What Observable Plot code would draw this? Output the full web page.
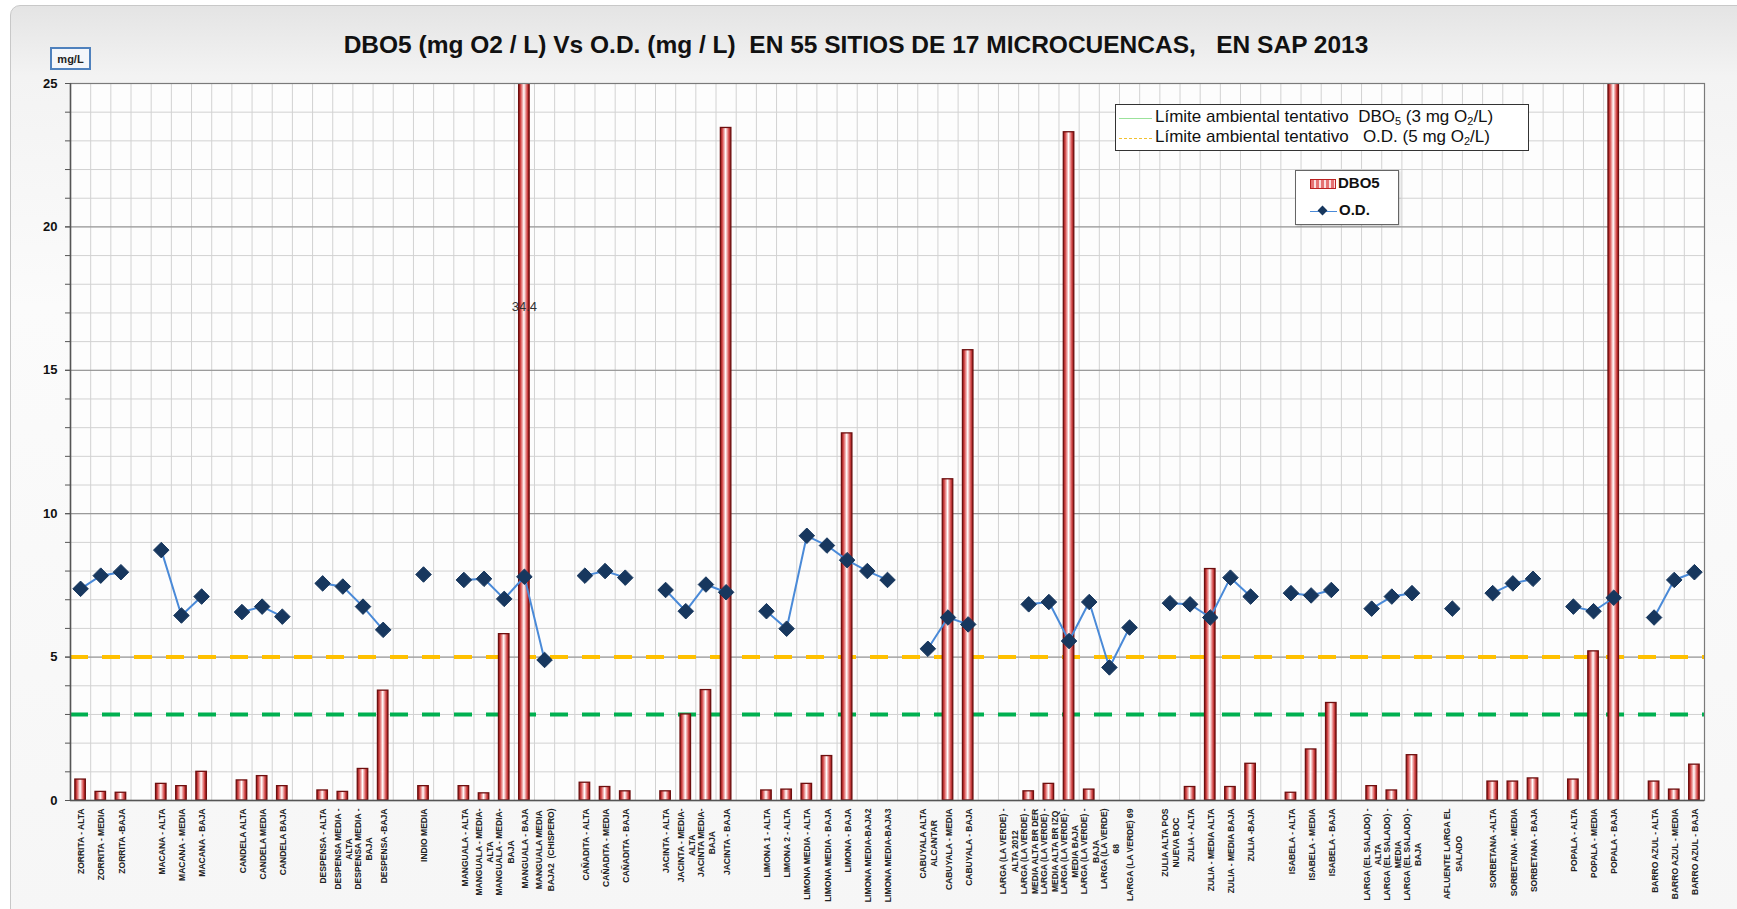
<!DOCTYPE html>
<html>
<head>
<meta charset="utf-8">
<script src="https://cdn.jsdelivr.net/npm/d3@7"></script>
<script src="https://cdn.jsdelivr.net/npm/@observablehq/plot@0.6"></script>
<style>
  html, body { margin: 0; padding: 0; width: 1737px; height: 909px; overflow: hidden; background: #ffffff; font-family: "Liberation Sans", Arial, sans-serif; }
  #wrap { position: relative; width: 1737px; height: 909px; }
  #frame { position: absolute; left: 10px; top: 5px; width: 1760px; height: 940px; border: 1px solid #c8c8c8; border-radius: 10px;
           background: linear-gradient(#e4e4e4 0px, #f3f3f3 70px, #fbfbfb 300px, #f6f6f6 909px); }
  #title { position: absolute; left: 0; width: 1712px; top: 31px; text-align: center; font-weight: bold; font-size: 24.5px; white-space: pre; color: #111; }
  #unit { position: absolute; left: 50px; top: 47px; width: 41px; height: 23px; border: 2px solid #4f81bd; background: #f4f6fa;
          font-size: 11px; font-weight: bold; line-height: 20px; text-align: center; color: #222; box-sizing: border-box; }
  #chart { position: absolute; left: 0; top: 0; }
  #leg1 { position: absolute; left: 1115px; top: 104px; width: 414px; height: 47px; border: 1.5px solid #333; background: #fff; box-sizing: border-box; font-size: 17px; color: #111; }
  #leg1 .row { position: absolute; left: 0; height: 20px; line-height: 20px; white-space: pre; }
  #leg1 .sw { position: absolute; left: 3px; width: 33px; top: 11px; }
  #leg1 .tx { position: absolute; left: 39px; top: 0; }
  #leg2 { position: absolute; left: 1295px; top: 170px; width: 104px; height: 55px; border: 1px solid #666; background: #fff; box-sizing: border-box; font-size: 15px; font-weight: bold; color: #111; box-shadow: 1px 1px 2px rgba(0,0,0,0.2); }
  sub { font-size: 11px; vertical-align: -3px; line-height: 0; }
</style>
</head>
<body>
<div id="wrap">
  <div id="frame"></div>
  <div id="title">DBO5 (mg O2 / L) Vs O.D. (mg / L)  EN 55 SITIOS DE 17 MICROCUENCAS,   EN SAP 2013</div>
  <div id="unit">mg/L</div>
  <div id="chart"></div>
  <div id="leg1">
    <div class="row" style="top:2px; width:100%;"><div class="sw" style="border-top:1px solid #9be29b;"></div><div class="tx">Límite ambiental tentativo  DBO<sub>5</sub> (3 mg O<sub>2</sub>/L)</div></div>
    <div class="row" style="top:22px; width:100%;"><div class="sw" style="border-top:1px dashed #f0c030;"></div><div class="tx">Límite ambiental tentativo   O.D. (5 mg O<sub>2</sub>/L)</div></div>
  </div>
  <div id="leg2">
    <div style="position:absolute; left:14px; top:8px; width:26px; height:10px; border:1.5px solid #b22; background: repeating-linear-gradient(90deg,#e57373 0 3px,#fbe0e0 3px 5px); box-sizing:border-box;"></div>
    <div style="position:absolute; left:42px; top:3px;">DBO5</div>
    <div style="position:absolute; left:14px; top:40px; width:27px; border-top:1.5px solid #4a8ad8;"></div>
    <div style="position:absolute; left:23px; top:36px; width:7px; height:7px; background:#17375e; transform: rotate(45deg);"></div>
    <div style="position:absolute; left:43px; top:30px;">O.D.</div>
  </div>
</div>
<script>
// ---------------- data ----------------
const categories = [
  "ZORRITA - ALTA", "ZORRITA - MEDIA", "ZORRITA -BAJA", "",
  "MACANA - ALTA", "MACANA - MEDIA", "MACANA - BAJA", "",
  "CANDELA ALTA", "CANDELA MEDIA", "CANDELA BAJA", "",
  "DESPENSA - ALTA", "DESPENSA MEDIA -\nALTA", "DESPENSA MEDIA -\nBAJA", "DESPENSA -BAJA", "",
  "INDIO MEDIA", "",
  "MANGUALA - ALTA", "MANGUALA - MEDIA-\nALTA", "MANGUALA - MEDIA-\nBAJA", "MANGUALA - BAJA", "MANGUALA MEDIA\nBAJA2  (CHISPERO)", "",
  "CAÑADITA - ALTA", "CAÑADITA - MEDIA", "CAÑADITA - BAJA", "",
  "JACINTA - ALTA", "JACINTA - MEDIA-\nALTA", "JACINTA MEDIA-\nBAJA", "JACINTA - BAJA", "",
  "LIMONA 1 - ALTA", "LIMONA 2 - ALTA", "LIMONA MEDIA - ALTA", "LIMONA MEDIA - BAJA", "LIMONA - BAJA", "LIMONA MEDIA-BAJA2", "LIMONA MEDIA-BAJA3", "",
  "CABUYALA ALTA\nALCANTAR", "CABUYALA - MEDIA", "CABUYALA - BAJA", "",
  "LARGA (LA VERDE) -\nALTA 2012", "LARGA (LA VERDE) -\nMEDIA ALTA BR DER", "LARGA (LA VERDE) -\nMEDIA ALTA BR IZQ", "LARGA (LA VERDE) -\nMEDIA BAJA", "LARGA (LA VERDE) -\nBAJA", "LARGA (LA VERDE)\n68", "LARGA (LA VERDE) 69", "",
  "ZULIA ALTA POS\nNUEVA BOC", "ZULIA - ALTA", "ZULIA - MEDIA ALTA", "ZULIA - MEDIA BAJA", "ZULIA -BAJA", "",
  "ISABELA - ALTA", "ISABELA - MEDIA", "ISABELA - BAJA", "",
  "LARGA (EL SALADO) -\nALTA", "LARGA (EL SALADO) -\nMEDIA", "LARGA (EL SALADO) -\nBAJA", "",
  "AFLUENTE LARGA EL\nSALADO", "",
  "SORBETANA -ALTA", "SORBETANA - MEDIA", "SORBETANA - BAJA", "",
  "POPALA - ALTA", "POPALA - MEDIA", "POPALA - BAJA", "",
  "BARRO AZUL - ALTA", "BARRO AZUL - MEDIA", "BARRO AZUL - BAJA"
];

const dbo5 = [
  0.73, 0.30, 0.27, null,
  0.58, 0.50, 1.00, null,
  0.70, 0.85, 0.50, null,
  0.35, 0.30, 1.10, 3.83, null,
  0.50, null,
  0.50, 0.25, 5.80, 34.4, null, null,
  0.62, 0.47, 0.32, null,
  0.32, 3.00, 3.85, 23.45, null,
  0.35, 0.38, 0.58, 1.55, 12.8, null, null, null,
  null, 11.2, 15.7, null,
  null, 0.32, 0.58, 23.3, 0.38, null, null, null,
  null, 0.47, 8.07, 0.47, 1.28, null,
  0.27, 1.78, 3.40, null,
  0.50, 0.35, 1.58, null,
  null, null,
  0.66, 0.66, 0.77, null,
  0.73, 5.20, 31.0, null,
  0.66, 0.38, 1.25
];

const od = [
  7.38, 7.84, 7.96, null,
  8.73, 6.45, 7.11, null,
  6.57, 6.76, 6.41, null,
  7.57, 7.46, 6.76, 5.95, null,
  7.88, null,
  7.69, 7.73, 7.03, 7.80, 4.90, null,
  7.84, 8.00, 7.77, null,
  7.34, 6.60, 7.53, 7.26, null,
  6.60, 5.99, 9.23, 8.89, 8.38, 8.00, 7.69, null,
  5.29, 6.38, 6.14, null,
  null, 6.84, 6.92, 5.56, 6.92, 4.64, 6.03, null,
  6.88, 6.84, 6.38, 7.77, 7.11, null,
  7.23, 7.15, 7.34, null,
  6.69, 7.11, 7.23, null,
  6.69, null,
  7.23, 7.57, 7.73, null,
  6.76, 6.60, 7.07, null,
  6.38, 7.69, 7.96
];

const limits = [{value: 3, color: "#00b050"}, {value: 5, color: "#ffc000"}];
const labeledBars = ["MANGUALA - BAJA"];
const yMajor = [0, 5, 10, 15, 20, 25];
const yMinor = d3.range(0, 26, 1);

// ---------------- chart ----------------
const n = categories.length;
const slots = d3.range(1, n + 1);
const data = slots.map((s, i) => ({slot: s, name: categories[i], dbo5: dbo5[i], od: od[i]}));
const bars = data.filter(d => d.dbo5 != null);
const barLabels = data.filter(d => labeledBars.includes(d.name));

const chart = Plot.plot({
  width: 1737,
  height: 909,
  marginLeft: 70,
  marginRight: 33,
  marginTop: 83,
  marginBottom: 109,
  style: {background: "transparent", fontFamily: "'Liberation Sans', Arial, sans-serif", overflow: "visible"},
  x: {type: "linear", domain: [0.5, n + 0.5], axis: null, label: null},
  y: {domain: [0, 25], axis: null, label: null},
  marks: [
    Plot.frame({fill: "#fdfdfd", stroke: null}),
    Plot.ruleY(yMinor, {stroke: "#d2d2d2", strokeWidth: 1}),
    Plot.ruleX(d3.range(0.5, n + 1, 1), {stroke: "#d2d2d2", strokeWidth: 1}),
    Plot.ruleY(yMajor.filter(v => v > 0 && v < 25), {stroke: "#8c8c8c", strokeWidth: 1}),
    Plot.ruleY(limits, {y: "value", stroke: "color", strokeWidth: 4, strokeDasharray: "18,14"}),
    Plot.rectY(bars, {x1: d => d.slot - 0.26, x2: d => d.slot + 0.26, y1: 0, y2: "dbo5", fill: "url(#barGrad)", stroke: "#6e0f0f", strokeWidth: 1.3, clip: true}),
    Plot.line(data, {x: "slot", y: "od", stroke: "#4a8ad8", strokeWidth: 2}),
    Plot.dot(data.filter(d => d.od != null), {x: "slot", y: "od", symbol: "diamond2", r: 7, fill: "#17375e", stroke: "#17375e", strokeWidth: 1}),
    Plot.text(barLabels, {x: "slot", y: d => d.dbo5 / 2, text: d => String(d.dbo5), fontSize: 13, fill: "#333"}),
    Plot.frame({stroke: "#7a7a7a", strokeWidth: 1.2}),
    Plot.ruleX([0.5], {stroke: "#555", strokeWidth: 1.5}),
    Plot.ruleY([0], {stroke: "#555", strokeWidth: 1.5}),
    Plot.axisY(yMinor, {tickSize: 5, tickFormat: () => "", stroke: "#555", label: null}),
    Plot.axisY(yMajor, {tickSize: 5, tickPadding: 8, fontSize: 13, fontWeight: "bold", fill: "#111", stroke: "#555", label: null}),
    Plot.axisX(slots, {tickFormat: i => categories[i - 1], tickRotate: -90, tickSize: 0, tickPadding: 8, fontSize: 8.5, fontWeight: "bold", fill: "#222", lineHeight: 1.35, textAnchor: "end", label: null})
  ]
});

// gradient definition for cylinder-like bars
const ns = "http://www.w3.org/2000/svg";
const defs = document.createElementNS(ns, "defs");
defs.innerHTML = `<linearGradient id="barGrad" x1="0" x2="1" y1="0" y2="0">
  <stop offset="0%" stop-color="#8a1212"/>
  <stop offset="18%" stop-color="#d24545"/>
  <stop offset="38%" stop-color="#f2b5b5"/>
  <stop offset="50%" stop-color="#ffffff"/>
  <stop offset="62%" stop-color="#f2b5b5"/>
  <stop offset="82%" stop-color="#d24545"/>
  <stop offset="100%" stop-color="#8a1212"/>
</linearGradient>`;
chart.insertBefore(defs, chart.firstChild);

document.getElementById("chart").appendChild(chart);

// center the lines of multi-line tick labels (block anchored at the axis)
chart.querySelectorAll("text").forEach(t => {
  const spans = t.querySelectorAll("tspan");
  if (spans.length < 2) return;
  const L = d3.max(Array.from(spans), s => s.getComputedTextLength());
  t.setAttribute("text-anchor", "middle");
  spans.forEach(s => s.setAttribute("x", -L / 2));
});
</script>
</body>
</html>
